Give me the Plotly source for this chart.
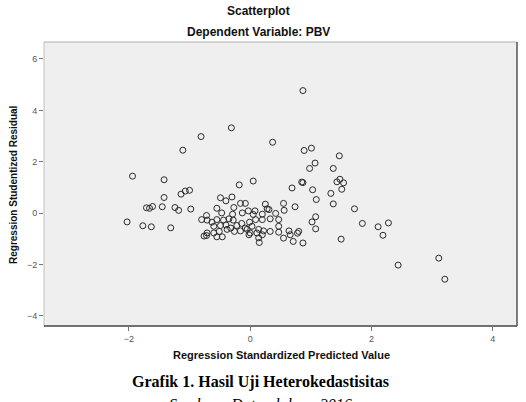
import plotly.graph_objects as go

# Regression standardized predicted value (x) and studentized residual (y)
pred = [-2.03, -1.94, -1.77, -1.63, -1.71, -1.66, -1.61, -1.45, -1.42, -1.42,
        -1.31, -1.24, -1.18, -1.14, -1.07, -1.00, -0.98, -1.11, -0.81, -0.31,
        0.87, 0.37, 0.89, 1.01, 1.07, 0.98, 1.47, 1.37, 0.05, -0.18,
        0.69, 0.85, 0.87, 1.03, 1.09, -0.49, -0.40, -0.30, 1.48, 1.43,
        1.54, 1.51, 1.33, 1.37, 1.72, 1.08, 1.02, 1.08, 1.50, 0.87,
        1.85, 2.11, 2.28, 2.19, 2.44, 3.11, 3.21, 0.66, 0.80, 0.71,
        0.14, 0.15, -0.46, -0.72, -0.16, -0.08, -0.55, -0.27, -0.03, 0.08,
        0.25, 0.28, 0.31, 0.55, 0.56, 0.74, -0.72, -0.47, -0.29, -0.13,
        0.05, 0.20, 0.42, -0.80, -0.71, -0.63, -0.55, -0.44, -0.35, -0.28,
        -0.14, -0.01, 0.09, 0.20, 0.33, 0.47, -0.60, -0.49, -0.40, -0.32,
        -0.22, -0.08, 0.03, 0.14, 0.47, -0.71, -0.60, -0.51, -0.38, -0.26,
        -0.16, -0.05, 0.00, 0.11, 0.22, 0.33, 0.64, 0.47, -0.76, -0.55,
        -0.02, 0.20, 0.55, 0.78]
resid = [-0.34, 1.44, -0.49, -0.53, 0.21, 0.19, 0.26, 0.25, 1.30, 0.61,
         -0.57, 0.22, 0.11, 0.74, 0.86, 0.89, 0.16, 2.45, 2.98, 3.32,
         4.77, 2.76, 2.44, 2.53, 1.95, 1.74, 2.23, 1.74, 1.25, 1.10,
         0.98, 1.21, 1.19, 0.91, 0.53, 0.60, 0.48, 0.63, 1.32, 1.22,
         1.18, 0.93, 0.77, 0.36, 0.17, -0.14, -0.34, -0.61, -1.01, -1.16,
         -0.40, -0.53, -0.38, -0.86, -2.02, -1.75, -2.57, -0.84, -0.71, -1.10,
         -0.96, -1.14, -0.92, -0.87, 0.38, 0.38, 0.19, 0.22, 0.09, 0.09,
         0.35, 0.17, 0.14, 0.38, 0.11, 0.25, -0.09, 0.01, -0.04, 0.01,
         -0.05, -0.04, -0.01, -0.25, -0.27, -0.35, -0.25, -0.27, -0.22, -0.27,
         -0.40, -0.35, -0.25, -0.25, -0.22, -0.25, -0.51, -0.48, -0.46, -0.58,
         -0.48, -0.58, -0.51, -0.63, -0.51, -0.77, -0.77, -0.71, -0.63, -0.71,
         -0.69, -0.63, -0.77, -0.77, -0.69, -0.71, -0.69, -0.74, -0.89, -0.92,
         -0.84, -0.84, -0.97, -0.78]

x_ticks = [-2, 0, 2, 4]
y_ticks = [-4, -2, 0, 2, 4, 6]

W, H = 526, 402
L, R, T, B = 44, 9, 42, 76
PW, PH = W - L - R, H - T - B


def px(x):
    return (x - L) / PW


def py(y):
    return (H - B - y) / PH


fig = go.Figure()
fig.add_trace(go.Scatter(
    x=pred, y=resid, mode="markers",
    marker=dict(symbol="circle-open", size=6, color="#2a2a2a",
                line=dict(width=1, color="#2a2a2a")),
    hoverinfo="skip", showlegend=False))

axis_common = dict(ticks="outside", ticklen=4, tickwidth=1, tickcolor="#777",
                   showgrid=False, zeroline=False,
                   tickfont=dict(family="Arial, Liberation Sans", size=9, color="#555"))

fig.update_layout(
    width=W, height=H,
    margin=dict(l=L, r=R, t=T, b=B, pad=0),
    paper_bgcolor="white", plot_bgcolor="#efefef",
    font=dict(family="Liberation Sans, Arial", color="#111"),
    xaxis=dict(range=[-3.40, 4.40], tickvals=x_ticks, **axis_common),
    yaxis=dict(range=[-4.39, 6.66], tickvals=y_ticks, **axis_common),
    shapes=[
        dict(type="line", xref="paper", yref="paper", x0=0, x1=1, y0=1, y1=1,
             line=dict(color="#b0b0b0", width=1)),
        dict(type="line", xref="paper", yref="paper", x0=0, x1=0, y0=0, y1=1,
             line=dict(color="#c0c0c0", width=1)),
        dict(type="line", xref="paper", yref="paper", x0=0, x1=1, y0=0, y1=0,
             line=dict(color="#444", width=1.5)),
        dict(type="line", xref="paper", yref="paper", x0=1, x1=1, y0=0, y1=1,
             line=dict(color="#555", width=1.5)),
    ],
    annotations=[
        dict(text="<b>Scatterplot</b>", xref="paper", yref="paper",
             x=px(258), y=py(11), showarrow=False, xanchor="center", yanchor="middle",
             font=dict(size=12, family="Liberation Sans, Arial", color="#111")),
        dict(text="<b>Dependent Variable: PBV</b>", xref="paper", yref="paper",
             x=px(258), y=py(32), showarrow=False, xanchor="center", yanchor="middle",
             font=dict(size=12, family="Liberation Sans, Arial", color="#111")),
        dict(text="<b>Regression Studentized Residual</b>", xref="paper", yref="paper",
             x=px(13), y=py(185), showarrow=False, textangle=-90,
             xanchor="center", yanchor="middle",
             font=dict(size=10, family="Liberation Sans, Arial", color="#111")),
        dict(text="<b>Regression Standardized Predicted Value</b>", xref="paper", yref="paper",
             x=px(281), y=py(355), showarrow=False, xanchor="center", yanchor="middle",
             font=dict(size=11, family="Liberation Sans, Arial", color="#111")),
        dict(text="<b>Grafik 1. Hasil Uji Heterokedastisitas</b>", xref="paper", yref="paper",
             x=px(260), y=py(382), showarrow=False, xanchor="center", yanchor="middle",
             font=dict(size=16, family="Liberation Serif, Times New Roman", color="#000")),
        dict(text="<i>Sumber : Data olahan, 2016</i>", xref="paper", yref="paper",
             x=px(260), y=py(404), showarrow=False, xanchor="center", yanchor="middle",
             font=dict(size=16, family="Liberation Serif, Times New Roman", color="#000")),
    ],
)

fig.write_html("out.html")
